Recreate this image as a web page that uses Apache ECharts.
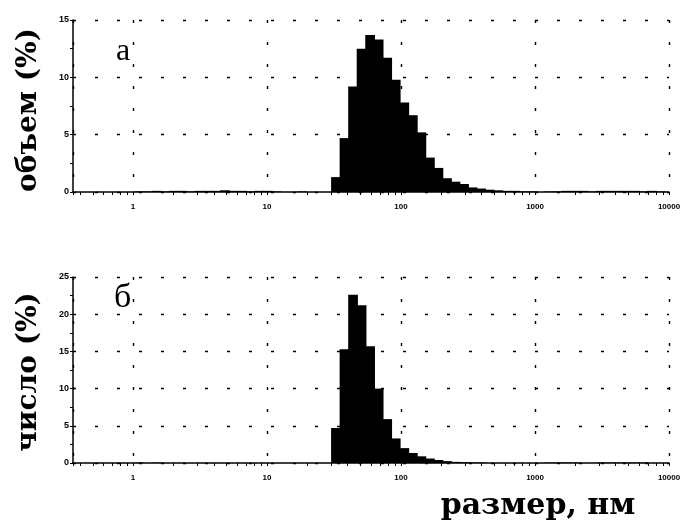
<!DOCTYPE html>
<html><head><meta charset="utf-8">
<script src="https://cdn.jsdelivr.net/npm/echarts@6/dist/echarts.min.js"></script>
<style>html,body{margin:0;padding:0;background:#fff}#c{width:687px;height:526px}</style>
</head><body><div id="c"></div>
<script>
// Size classes (nm), bin centres
const sizeClasses = [0.4,0.4632,0.5365,0.6213,0.7195,0.8332,0.9649,1.117,1.294,1.499,
  1.736,2.010,2.328,2.696,3.122,3.615,4.187,4.849,5.615,6.503,
  7.531,8.721,10.10,11.70,13.54,15.69,18.17,21.04,24.36,28.21,
  32.67,37.84,43.82,50.75,58.77,68.06,78.82,91.28,105.7,122.4,
  141.8,164.2,190.1,220.2,255.0,295.3,342.0,396.1,458.7,531.2,
  615.1,712.4,825.0,955.4,1106,1281,1484,1718,1990,2305,
  2669,3091,3580,4145,4801,5560,6439,7456,8635,10000];
// Volume distribution (%)
const volumePct = [0,0,0,0,0,0,0,0.05,0.05,0.1,
  0.05,0.1,0.1,0.05,0.1,0.1,0.1,0.15,0.1,0.1,
  0.05,0.1,0.1,0.05,0,0,0.05,0,0,0,
  1.3,4.7,9.2,12.5,13.7,13.3,11.7,9.8,7.8,6.7,
  5.2,3.0,2.1,1.2,0.9,0.7,0.4,0.3,0.2,0.15,
  0.1,0.1,0.05,0.05,0,0.05,0.05,0.1,0.1,0.1,
  0.05,0.1,0.1,0.1,0.1,0.1,0.05,0.1,0.05,0];
// Number distribution (%)
const numberPct = [0,0,0,0,0,0,0,0.05,0,0.05,
  0,0,0,0,0,0,0,0,0,0,
  0,0,0,0,0,0,0,0,0,0,
  4.7,15.3,22.6,21.2,15.7,10.0,5.9,3.3,2.0,1.35,
  0.9,0.6,0.4,0.25,0.15,0.1,0.05,0.05,0,0,
  0,0,0,0,0,0.05,0.05,0.05,0.05,0,
  0,0.05,0.05,0.05,0.05,0.05,0.05,0,0,0];
const xMin = 0.356, xMax = 10000;
const volumeMax = 15, numberMax = 25, yStep = 5;
const panelLabels = ['а', 'б'];
const yNames = ['объем (%)', 'число (%)'];
const xName = 'размер, нм';

const halfR = Math.sqrt(sizeClasses[1] / sizeClasses[0]);
const chart = echarts.init(document.getElementById('c'), null, {renderer: 'canvas'});

function renderBin(params, api) {
  const s = api.value(0), v = api.value(1);
  if (!v) return null;
  const a = api.coord([s / halfR, v]);
  const b = api.coord([s * halfR, 0]);
  const cs = params.coordSys;
  const x0 = Math.max(a[0] - 0.6, cs.x), x1 = Math.min(b[0] + 0.6, cs.x + cs.width);
  if (x1 <= x0) return null;
  return {type: 'rect', shape: {x: x0, y: a[1], width: x1 - x0, height: b[1] - a[1]},
          style: {fill: '#000', stroke: null}};
}

const dash = {color: '#000', width: 1.4, type: [3, 19]};
function xAxisCfg(gi) {
  return {
    type: 'log', logBase: 10, gridIndex: gi, min: xMin, max: xMax,
    axisLine: {show: true, onZero: false, lineStyle: {color: '#000', width: 1.5}},
    axisTick: {show: true, length: 3, lineStyle: {color: '#000', width: 1}},
    minorTick: {show: true, splitNumber: 9, length: 3, lineStyle: {color: '#000', width: 1}},
    splitLine: {show: true, lineStyle: dash},
    axisLabel: {
      color: '#000', fontSize: 8, fontFamily: 'Liberation Sans', fontWeight: 'bold', margin: 11,
      showMinLabel: true, showMaxLabel: true,
      formatter: function (v) {
        const l = Math.log10(v);
        return (v >= 1 && Math.abs(l - Math.round(l)) < 1e-6) ? String(Math.round(v)) : '';
      }
    }
  };
}
function yAxisCfg(gi, max) {
  return {
    type: 'value', gridIndex: gi, min: 0, max: max, interval: yStep,
    axisLine: {show: true, lineStyle: {color: '#000', width: 1.5}},
    axisTick: {show: true, length: 3, lineStyle: {color: '#000', width: 1}},
    minorTick: {show: true, splitNumber: 2, length: 3, lineStyle: {color: '#000', width: 1}},
    splitLine: {show: true, lineStyle: dash},
    axisLabel: {color: '#000', fontSize: 9, fontFamily: 'Liberation Sans', fontWeight: 'bold', margin: 4}
  };
}

const volData = sizeClasses.map((s, i) => [s, volumePct[i]]);
const numData = sizeClasses.map((s, i) => [s, numberPct[i]]);

chart.setOption({
  animation: false,
  backgroundColor: '#fff',
  grid: [
    {left: 73, right: 18, top: 20, height: 172},
    {left: 73, right: 18, top: 277, height: 186}
  ],
  xAxis: [xAxisCfg(0), xAxisCfg(1)],
  yAxis: [yAxisCfg(0, volumeMax), yAxisCfg(1, numberMax)],
  series: [
    {type: 'custom', xAxisIndex: 0, yAxisIndex: 0, data: volData, renderItem: renderBin, clip: true},
    {type: 'custom', xAxisIndex: 1, yAxisIndex: 1, data: numData, renderItem: renderBin, clip: true}
  ],
  graphic: [
    {type: 'text', x: 29, y: 110, rotation: Math.PI / 2,
     style: {text: yNames[0], font: 'bold 28px "DejaVu Serif"', fill: '#000', align: 'center', verticalAlign: 'middle'}},
    {type: 'text', x: 29, y: 372, rotation: Math.PI / 2,
     style: {text: yNames[1], font: 'bold 28px "DejaVu Serif"', fill: '#000', align: 'center', verticalAlign: 'middle'}},
    {type: 'text', x: 116, y: 52,
     style: {text: panelLabels[0], font: '32px "Liberation Serif"', fill: '#000', align: 'left', verticalAlign: 'middle'}},
    {type: 'text', x: 114, y: 298,
     style: {text: panelLabels[1], font: '34px "Liberation Serif"', fill: '#000', align: 'left', verticalAlign: 'middle'}},
    {type: 'text', x: 538, y: 506,
     style: {text: xName, font: 'bold 30px "DejaVu Serif"', fill: '#000', align: 'center', verticalAlign: 'middle'}}
  ]
});
</script></body></html>
